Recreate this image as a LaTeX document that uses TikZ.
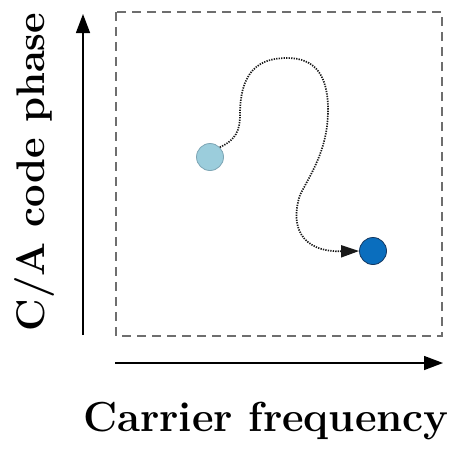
\documentclass[tikz,border=0pt]{standalone}
\usepackage{fontspec}
\usetikzlibrary{arrows.meta}
\definecolor{startfill}{RGB}{155,205,220}
\definecolor{startedge}{RGB}{125,165,180}
\definecolor{endfill}{RGB}{10,110,190}
\definecolor{endedge}{RGB}{20,55,95}
\definecolor{boxgray}{RGB}{110,110,110}
\begin{document}
\begin{tikzpicture}[x=1pt,y=-1pt,
  axis/.style={line width=1.4pt,-{Triangle[length=19pt,width=14pt]}},
  searchbox/.style={draw=boxgray,line width=1.6pt,dash pattern=on 9pt off 6pt},
  cell/.style={circle,minimum size=27pt,inner sep=0pt,line width=0.8pt},
  track/.style={line width=1.7pt,dash pattern=on 1.3pt off 1.2pt,draw=black!90,
    -{Triangle[length=18pt,width=12pt]}},
  axislabel/.style={font=\fontsize{40}{46}\selectfont\bfseries}]
\useasboundingbox (0,0) rectangle (455,448);
% search space
\draw[searchbox] (116,12) rectangle (442,336);
% axes
\coordinate (yfrom) at (83,335);
\coordinate (yto) at (83,14);
\coordinate (xfrom) at (115,363);
\coordinate (xto) at (443,363);
\draw[axis] (yfrom) -- (yto);
\draw[axis] (xfrom) -- (xto);
\node[axislabel,anchor=base,rotate=90] (ylab) at (44,172) {C/A code phase};
\node[axislabel,font=\fontsize{42}{48}\selectfont\bfseries,anchor=base] (xlab) at (266,431) {Carrier frequency};
% initial and refined estimates
\node[cell,fill=startfill,draw=startedge] (init) at (210,157) {};
\node[cell,fill=endfill,draw=endedge] (final) at (373,251) {};
% trajectory
\coordinate (p1) at (240,115);
\coordinate (p2) at (287,58);
\coordinate (p3) at (328,110);
\coordinate (p4) at (300,195);
\draw[track] (init.45) .. controls (236,140) and (240,130) .. (p1)
  .. controls (240,70) and (260,58) .. (p2)
  .. controls (315,58) and (328,75) .. (p3)
  .. controls (328,150) and (310,175) .. (p4)
  .. controls (290,225) and (300,252) .. (final.west);
\end{tikzpicture}
\end{document}
